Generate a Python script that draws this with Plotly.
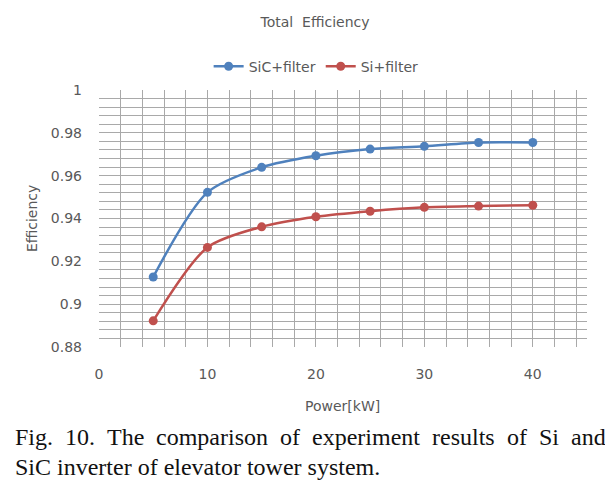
import plotly.graph_objects as go

power_kw = [5, 10, 15, 20, 25, 30, 35, 40]
sic_filter = [0.9127, 0.9522, 0.9639, 0.9693, 0.9724, 0.9737, 0.9755, 0.9755]
si_filter = [0.8922, 0.9265, 0.9361, 0.9408, 0.9434, 0.9452, 0.9458, 0.9462]

series_names = ["SiC+filter", "Si+filter"]
series_colors = ["#4F81BD", "#C0504D"]

x_ticks = [0, 10, 20, 30, 40]
y_ticks = [0.88, 0.9, 0.92, 0.94, 0.96, 0.98, 1]
y_tick_labels = ["0.88", "0.9", "0.92", "0.94", "0.96", "0.98", "1"]

caption_line1_words = ["Fig.", "10.", "The", "comparison", "of", "experiment",
                       "results", "of", "Si", "and"]
caption_line1_x = [13.8, 63.8, 105.8, 155.1, 279.1, 311.1, 431.1, 505.8, 537.8, 569.8]
caption_line2 = "SiC inverter of elevator tower system."

# page body has an 8px margin; work in window pixels and convert
OFF = 8
WIN_W, WIN_H = 613, 493
W, H = WIN_W - OFF, WIN_H - OFF
PL, PR, PT, PB = 99, 586.7, 90, 346.7  # plot area in window pixels
L, R, T, B = PL - OFF, WIN_W - PR, PT - OFF, WIN_H - PB
plot_w = PR - PL
plot_h = PB - PT

def px_x(px):
    return (px - PL) / plot_w

def px_y(py):
    return (PB - py) / plot_h

fig = go.Figure()
for name, ys, col in zip(series_names, [sic_filter, si_filter], series_colors):
    fig.add_trace(go.Scatter(
        x=power_kw, y=ys, name=name, mode="lines+markers",
        line=dict(color=col, width=2.5, shape="spline", smoothing=0.8),
        marker=dict(color=col, size=9, symbol="circle"),
    ))

grid_col = "#a9a9a9"
sans = "DejaVu Sans, sans-serif"
txt_col = "#595959"
tick_font = dict(family=sans, size=14, color=txt_col)

fig.update_layout(
    width=W, height=H,
    margin=dict(l=L, r=R, t=T, b=B),
    paper_bgcolor="white", plot_bgcolor="white",
    title=dict(text="Total  Efficiency", x=(315 - OFF) / W, xanchor="center",
               y=1 - (22.5 - OFF) / H, yanchor="middle",
               font=dict(family=sans, size=14, color=txt_col)),
    legend=dict(orientation="h", x=px_x(316), xanchor="center",
                y=px_y(66.7), yanchor="middle",
                font=dict(family=sans, size=14, color=txt_col),
                itemwidth=30, bgcolor="rgba(0,0,0,0)"),
    showlegend=True,
)

fig.update_xaxes(
    range=[0, 45], tickvals=x_ticks, ticktext=[str(v) for v in x_ticks],
    showgrid=True, gridcolor=grid_col, gridwidth=1,
    minor=dict(dtick=2, tick0=0, showgrid=True, gridcolor=grid_col, gridwidth=1),
    zeroline=False, showline=False, ticks="",
    tickfont=tick_font, ticklabelstandoff=17,
)
fig.update_yaxes(
    range=[0.88, 1.0], tickvals=y_ticks, ticktext=y_tick_labels,
    showgrid=True, gridcolor=grid_col, gridwidth=1,
    minor=dict(dtick=0.004, tick0=0.88, showgrid=True, gridcolor=grid_col, gridwidth=1),
    zeroline=False, showline=False, ticks="",
    tickfont=tick_font, ticklabelstandoff=16,
)

# axis titles
fig.add_annotation(text="Power[kW]", xref="paper", yref="paper",
                   x=px_x(342), y=px_y(406), xanchor="center", yanchor="middle",
                   showarrow=False, font=dict(family=sans, size=14, color=txt_col))
fig.add_annotation(text="Efficiency", xref="paper", yref="paper",
                   x=px_x(32), y=px_y(218), xanchor="center", yanchor="middle",
                   textangle=-90, showarrow=False,
                   font=dict(family=sans, size=14, color=txt_col))

cap_font = dict(family="Liberation Serif, Times New Roman, serif", size=24, color="#111111")
for word, xp in zip(caption_line1_words, caption_line1_x):
    fig.add_annotation(text=word, xref="paper", yref="paper",
                       x=px_x(xp), y=px_y(437), xanchor="left", yanchor="middle",
                       showarrow=False, font=cap_font, borderpad=0)
fig.add_annotation(text=caption_line2, xref="paper", yref="paper",
                   x=px_x(13.8), y=px_y(467), xanchor="left", yanchor="middle",
                   showarrow=False, font=cap_font, borderpad=0)

fig.write_html("out.html")
